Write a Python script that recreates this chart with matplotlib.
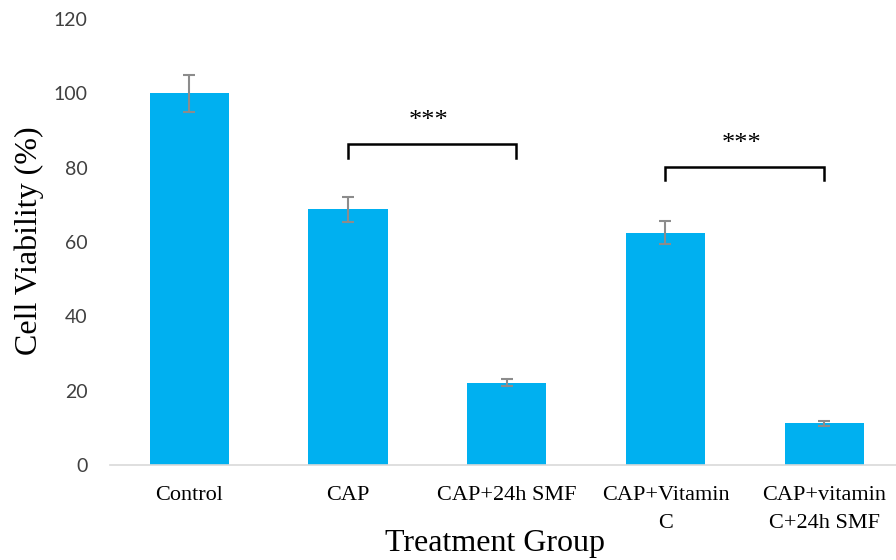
import matplotlib
matplotlib.use("Agg")
import matplotlib.pyplot as plt
import numpy as np

groups = ["Control", "CAP", "CAP+24h SMF", "CAP+Vitamin\nC", "CAP+vitamin\nC+24h SMF"]
viability = [100.0, 68.8, 22.2, 62.5, 11.2]
errors = [5.0, 3.4, 1.0, 3.1, 0.6]
y_ticks = [0, 20, 40, 60, 80, 100, 120]

# significance brackets: (left group, right group, bracket height, leg drop, label)
brackets = [(1, 2, 86.5, 4.0, "***"), (3, 4, 80.3, 3.6, "***")]

fig = plt.figure(figsize=(8.96, 5.6), dpi=100)
ax = fig.add_axes([0.1228, 0.1696, 0.8856, 0.7964])
ax.set_clip_on(False)

x = np.arange(len(groups))
ax.bar(x, viability, width=0.5, color="#00B0F0", zorder=2)
ax.errorbar(x, viability, yerr=errors, fmt="none", ecolor="#8C8C8C",
            elinewidth=1.5, capsize=4.3, capthick=1.5, zorder=3)

ax.set_xlim(-0.5, len(groups) - 0.5)
ax.set_ylim(0, 120)
ax.set_yticks(y_ticks)
ax.set_yticklabels([str(v) for v in y_ticks], fontfamily="Lato", fontsize=14,
                   color="#404040")
ax.set_xticks(x)
ax.set_xticklabels(groups, fontfamily="Liberation Serif", fontsize=16,
                   color="#000000", linespacing=1.68)
ax.tick_params(axis="both", length=0)
ax.tick_params(axis="y", pad=16)
ax.tick_params(axis="x", pad=15)

for side in ("top", "right", "left"):
    ax.spines[side].set_visible(False)
ax.spines["bottom"].set_color("#D9D9D9")
ax.spines["bottom"].set_linewidth(1.2)

for i, j, h, drop, label in brackets:
    xl = i
    xr = j + 0.06 if j == 2 else j
    ax.plot([xl, xl, xr, xr], [h - drop, h, h, h - drop], color="black",
            lw=1.8, solid_joinstyle="miter", zorder=4, clip_on=False)
    ax.text((xl + xr) / 2 - 0.02, h + 6.2, label, ha="center", va="center",
            fontsize=19, fontfamily="Liberation Serif", color="black")

fig.text(0.033, 0.571, "Cell Viability (%)", rotation=90, ha="center",
         va="center", fontfamily="Liberation Serif", fontsize=23)
fig.text(0.553, 0.03, "Treatment Group", ha="center", va="center",
         fontfamily="Liberation Serif", fontsize=23)

fig.savefig("out.png", dpi=100)
